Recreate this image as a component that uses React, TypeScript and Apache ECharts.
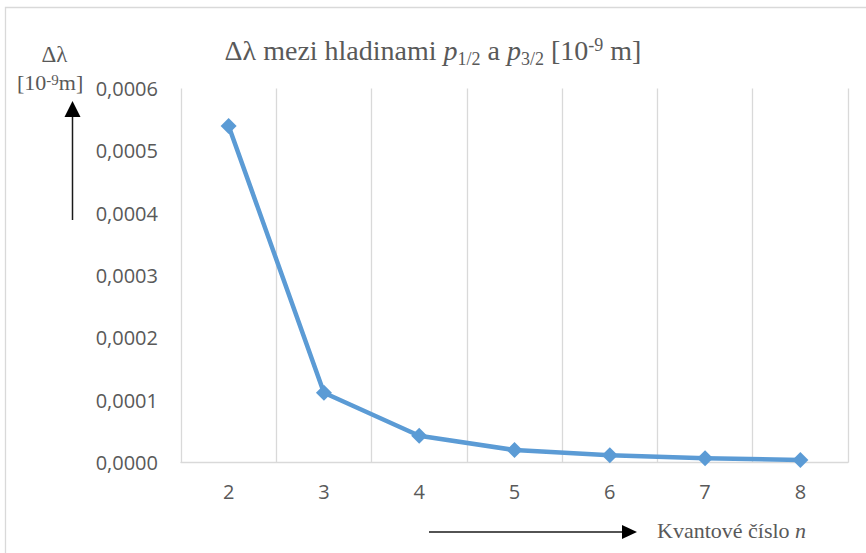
import React, { useEffect, useRef } from "react";
import * as echarts from "echarts";

const categories: string[] = ["2", "3", "4", "5", "6", "7", "8"];
const deltaLambda: number[] = [0.00054, 0.000112, 0.000043, 0.00002, 0.0000116, 0.0000067, 0.000004];
const yMin = 0;
const yMax = 0.0006;
const yStep = 0.0001;

const GRAY = "#595959";
const SERIF = "'Liberation Serif', 'Times New Roman', serif";
const SANS = "'Open Sans', sans-serif";

export default function App() {
  const ref = useRef<HTMLDivElement>(null);
  useEffect(() => {
    if (!ref.current) return;
    const chart = echarts.init(ref.current, undefined, { renderer: "svg" });
    chart.setOption({
      animation: false,
      backgroundColor: "#ffffff",
      title: {
        text: "{a|Δλ mezi hladinami }{i|p}{s|1/2}{a| a }{i|p}{s|3/2}{a| [10}{u|-9}{a| m]}",
        left: "center",
        top: 27,
        textStyle: {
          fontWeight: "normal",
          rich: {
            a: { fontSize: 28, fontFamily: SERIF, fontWeight: "normal", color: GRAY, lineHeight: 36 },
            i: { fontSize: 28, fontFamily: SERIF, fontWeight: "normal", fontStyle: "italic", color: GRAY, lineHeight: 36 },
            s: { fontSize: 18, fontFamily: SERIF, fontWeight: "normal", color: GRAY, lineHeight: 36, padding: [17, 0, 0, 0] },
            u: { fontSize: 18, fontFamily: SERIF, fontWeight: "normal", color: GRAY, lineHeight: 36, padding: [0, 0, 11, 0] },
          },
        },
      },
      grid: { left: 181, right: 18, top: 88.5, bottom: 90.5, containLabel: false },
      xAxis: {
        type: "category",
        data: categories,
        boundaryGap: true,
        axisLine: { show: true, lineStyle: { color: "#d9d9d9", width: 1.3 } },
        axisTick: { show: false },
        axisLabel: { color: GRAY, fontSize: 20, fontFamily: SANS, margin: 19 },
        splitLine: { show: true, lineStyle: { color: "#d9d9d9", width: 1.3 } },
      },
      yAxis: {
        type: "value",
        min: yMin,
        max: yMax,
        interval: yStep,
        axisLine: { show: false },
        axisTick: { show: false },
        splitLine: { show: false },
        axisLabel: {
          color: GRAY,
          fontSize: 20,
          fontFamily: SANS,
          margin: 23,
          formatter: (v: number) => v.toFixed(4).replace(".", ","),
        },
      },
      series: [
        {
          type: "line",
          data: deltaLambda,
          symbol: "diamond",
          symbolSize: 16,
          lineStyle: { color: "#5B9BD5", width: 4.5, cap: "round", join: "round" },
          itemStyle: { color: "#5B9BD5" },
        },
      ],
      graphic: [
        {
          type: "rect",
          shape: { x: 5.5, y: 7.5, width: 1000, height: 1000 },
          style: { fill: "none", stroke: "#d9d9d9", lineWidth: 1.3 },
          silent: true,
          z: -1,
        },
        {
          type: "text",
          x: 54.5,
          y: 54,
          style: {
            text: "Δλ",
            font: `23px ${SERIF}`,
            fill: GRAY,
            textAlign: "center",
            textVerticalAlign: "middle",
          },
        },
        {
          type: "text",
          x: 17,
          y: 82.5,
          style: {
            text: "{a|[10}{u|-9}{a|m]}",
            textAlign: "left",
            textVerticalAlign: "middle",
            rich: {
              a: { fontSize: 22, fontFamily: SERIF, fill: GRAY, lineHeight: 28 },
              u: { fontSize: 15, fontFamily: SERIF, fill: GRAY, lineHeight: 28, padding: [0, 0, 6, 0] },
            },
          },
        },
        {
          type: "line",
          shape: { x1: 72.5, y1: 220, x2: 72.5, y2: 112 },
          style: { stroke: "#1a1a1a", lineWidth: 1.5 },
        },
        {
          type: "polygon",
          shape: { points: [[72.5, 101], [64.5, 117], [80.5, 117]] },
          style: { fill: "#000000" },
        },
        {
          type: "line",
          shape: { x1: 429, y1: 532, x2: 626, y2: 532 },
          style: { stroke: "#1a1a1a", lineWidth: 1.5 },
        },
        {
          type: "polygon",
          shape: { points: [[637, 532], [622, 525], [622, 539]] },
          style: { fill: "#000000" },
        },
        {
          type: "text",
          x: 657,
          y: 530,
          style: {
            text: "{a|Kvantové číslo }{i|n}",
            textAlign: "left",
            textVerticalAlign: "middle",
            rich: {
              a: { fontSize: 22, fontFamily: SERIF, fill: GRAY },
              i: { fontSize: 22, fontFamily: SERIF, fill: GRAY, fontStyle: "italic" },
            },
          },
        },
      ],
    });
    return () => chart.dispose();
  }, []);
  return (
    <div
      ref={ref}
      style={{ position: "absolute", left: 0, top: 0, width: 866, height: 553 }}
    />
  );
}
